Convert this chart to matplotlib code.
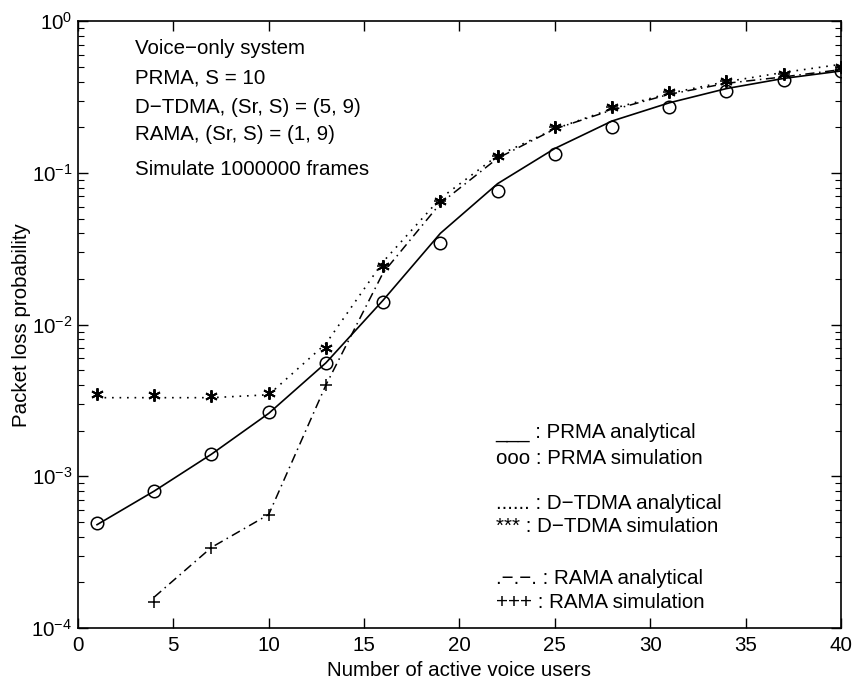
import matplotlib
matplotlib.use('Agg')
import matplotlib.pyplot as plt

plt.rcParams['font.family'] = ['Liberation Sans', 'DejaVu Sans']
plt.rcParams['mathtext.fontset'] = 'custom'
plt.rcParams['mathtext.rm'] = 'Liberation Sans'

# number of active voice users
users = [1, 4, 7, 10, 13, 16, 19, 22, 25, 28, 31, 34, 37, 40]
users_rama = [4, 7, 10, 13, 16, 19, 22, 25, 28, 31, 34, 37, 40]

# packet loss probability
prma_ana = [4.8e-4, 8.0e-4, 1.40e-3, 2.6e-3, 5.6e-3, 0.0145, 0.040, 0.085,
            0.145, 0.22, 0.29, 0.36, 0.42, 0.47]
prma_sim = [4.9e-4, 8.0e-4, 1.40e-3, 2.64e-3, 5.6e-3, 0.0141, 0.0343, 0.0762,
            0.1325, 0.201, 0.272, 0.346, 0.408, 0.470]
dtdma_ana = [3.3e-3, 3.3e-3, 3.3e-3, 3.45e-3, 7.5e-3, 0.026, 0.068, 0.13,
             0.195, 0.265, 0.335, 0.40, 0.46, 0.52]
dtdma_sim = [3.47e-3, 3.45e-3, 3.4e-3, 3.52e-3, 7.0e-3, 0.0243, 0.0652, 0.129,
             0.201, 0.272, 0.342, 0.403, 0.452, 0.499]
rama_ana = [1.6e-4, 3.4e-4, 5.6e-4, 4.0e-3, 0.022, 0.063, 0.125, 0.195,
            0.26, 0.33, 0.39, 0.43, 0.48]
rama_sim = [1.49e-4, 3.35e-4, 5.6e-4, 4.0e-3, 0.0243, 0.0652, 0.129, 0.201,
            0.272, 0.342, 0.403, 0.452, 0.499]

info_lines = ['Voice\u2212only system', 'PRMA, S = 10',
              'D\u2212TDMA, (Sr, S) = (5, 9)', 'RAMA, (Sr, S) = (1, 9)',
              'Simulate 1000000 frames']
info_y = [0.664, 0.420, 0.271, 0.180, 0.106]

key_lines = ['___ : PRMA analytical', 'ooo : PRMA simulation',
             '...... : D\u2212TDMA analytical', '*** : D\u2212TDMA simulation',
             '.\u2212.\u2212. : RAMA analytical', '+++ : RAMA simulation']
key_y = [1.96e-3, 1.32e-3, 6.67e-4, 4.64e-4, 2.13e-4, 1.48e-4]

fs = 14.8

fig = plt.figure(figsize=(8.52, 6.86), dpi=100)
ax = fig.add_axes([0.0915, 0.0845, 0.8955, 0.8845])

ax.plot(users, prma_ana, color='k', lw=1.2, ls='-')
ax.plot(users, prma_sim, ls='none', marker='o', mfc='none', mec='k', ms=9, mew=1.1)
ax.plot(users, dtdma_ana, color='k', lw=1.2, ls=(0, (1, 3.5)))
ax.plot(users_rama, rama_ana, color='k', lw=1.1, ls=(0, (6, 3, 1, 3)))
ax.plot(users_rama, rama_sim, ls='none', marker='+', color='k', ms=9, mew=1.1)
ax.plot(users, dtdma_sim, ls='none', marker=(6, 2, 0), color='k', ms=9, mew=1.4)

ax.set_yscale('log')
ax.set_xlim(0, 40)
ax.set_ylim(1e-4, 1)
ax.set_xticks(range(0, 41, 5))
ax.tick_params(which='both', direction='in', top=True, right=True, labelsize=fs)
ax.tick_params(which='major', length=7, width=1, pad=4)
ax.tick_params(axis='x', which='major', pad=6)
ax.tick_params(which='minor', length=4, width=0.8)
for s in ax.spines.values():
    s.set_linewidth(1.2)

ax.set_xlabel('Number of active voice users', fontsize=fs, labelpad=4)
ax.set_ylabel('Packet loss probability', fontsize=fs, labelpad=0)

for t, yv in zip(info_lines, info_y):
    ax.text(3.0, yv, t, fontsize=fs, va='center', ha='left')

for t, yv in zip(key_lines, key_y):
    ax.text(21.9, yv, t, fontsize=fs, va='center', ha='left')

fig.savefig('out.png', dpi=100)
